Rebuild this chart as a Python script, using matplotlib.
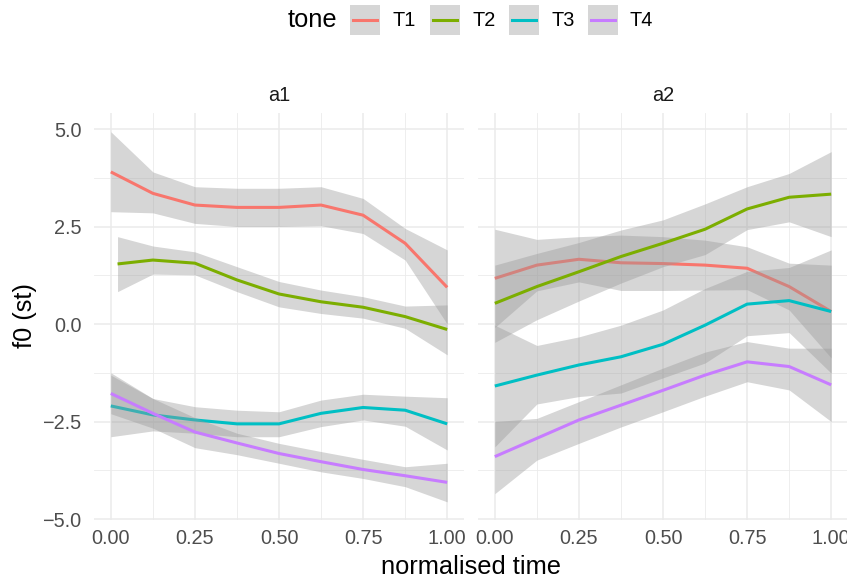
import matplotlib.pyplot as plt
from matplotlib.lines import Line2D
from matplotlib.patches import Rectangle

plt.rcParams['font.family'] = ['Liberation Sans', 'DejaVu Sans']

# normalised time points
time = [0, 0.125, 0.25, 0.375, 0.5, 0.625, 0.75, 0.875, 1]
time_a1_t2 = [0.02, 0.125, 0.25, 0.375, 0.5, 0.625, 0.75, 0.875, 1]

tones = ['T1', 'T2', 'T3', 'T4']
colors = ['#F8766D', '#7CAE00', '#00BFC4', '#C77CFF']

# panel a1: smoothed mean, lower and upper bounds
a1_t1 = [3.90, 3.35, 3.05, 2.99, 2.99, 3.05, 2.79, 2.07, 0.94]
a1_t1_lo = [2.88, 2.85, 2.58, 2.50, 2.50, 2.52, 2.32, 1.64, 0.00]
a1_t1_hi = [4.93, 3.90, 3.52, 3.48, 3.48, 3.52, 3.22, 2.45, 1.90]

a1_t2 = [1.54, 1.64, 1.56, 1.13, 0.77, 0.57, 0.43, 0.19, -0.14]
a1_t2_lo = [0.83, 1.28, 1.26, 0.83, 0.44, 0.27, 0.15, -0.11, -0.79]
a1_t2_hi = [2.24, 2.00, 1.85, 1.47, 1.09, 0.87, 0.70, 0.46, 0.49]

a1_t3 = [-2.10, -2.33, -2.46, -2.56, -2.56, -2.29, -2.14, -2.21, -2.56]
a1_t3_lo = [-2.89, -2.74, -2.80, -2.89, -2.89, -2.63, -2.46, -2.62, -3.23]
a1_t3_hi = [-1.31, -1.91, -2.12, -2.21, -2.25, -1.95, -1.80, -1.85, -1.89]

a1_t4 = [-1.78, -2.29, -2.77, -3.05, -3.32, -3.53, -3.73, -3.89, -4.06]
a1_t4_lo = [-2.30, -2.67, -3.17, -3.35, -3.57, -3.79, -3.96, -4.17, -4.56]
a1_t4_hi = [-1.25, -1.91, -2.40, -2.80, -3.06, -3.27, -3.47, -3.66, -3.57]

# panel a2
a2_t1 = [1.17, 1.51, 1.66, 1.57, 1.55, 1.51, 1.43, 0.96, 0.32]
a2_t1_lo = [-0.09, 0.85, 1.08, 0.86, 0.86, 0.87, 0.88, 0.36, -0.87]
a2_t1_hi = [2.43, 2.17, 2.24, 2.28, 2.24, 2.15, 1.98, 1.56, 1.51]

a2_t2 = [0.53, 0.96, 1.34, 1.73, 2.07, 2.43, 2.95, 3.25, 3.33]
a2_t2_lo = [-0.47, 0.11, 0.59, 1.05, 1.47, 1.78, 2.42, 2.62, 2.24]
a2_t2_hi = [1.51, 1.81, 2.09, 2.41, 2.67, 3.08, 3.52, 3.86, 4.42]

a2_t3 = [-1.59, -1.31, -1.05, -0.84, -0.52, -0.03, 0.51, 0.60, 0.32]
a2_t3_lo = [-3.15, -2.05, -1.86, -1.77, -1.38, -1.00, -0.30, -0.22, -1.26]
a2_t3_hi = [-0.03, -0.55, -0.33, -0.03, 0.36, 0.91, 1.35, 1.45, 1.90]

a2_t4 = [-3.40, -2.93, -2.46, -2.08, -1.70, -1.31, -0.97, -1.09, -1.56]
a2_t4_lo = [-4.35, -3.49, -3.06, -2.64, -2.25, -1.85, -1.48, -1.69, -2.50]
a2_t4_hi = [-2.50, -2.42, -1.99, -1.56, -1.13, -0.72, -0.45, -0.62, -0.62]

panels = {
    'a1': [(time, a1_t1, a1_t1_lo, a1_t1_hi),
           (time_a1_t2, a1_t2, a1_t2_lo, a1_t2_hi),
           (time, a1_t3, a1_t3_lo, a1_t3_hi),
           (time, a1_t4, a1_t4_lo, a1_t4_hi)],
    'a2': [(time, a2_t1, a2_t1_lo, a2_t1_hi),
           (time, a2_t2, a2_t2_lo, a2_t2_hi),
           (time, a2_t3, a2_t3_lo, a2_t3_hi),
           (time, a2_t4, a2_t4_lo, a2_t4_hi)],
}

W, H = 847, 583
fig = plt.figure(figsize=(W / 100, H / 100), dpi=100)

grid_col = '#EBEBEB'
text_col = '#4D4D4D'
band_col = '#999999'

panel_left = [94, 478]
panel_w = 370
panel_top, panel_bot = 113.4, 520.2

for i, (name, series) in enumerate(panels.items()):
    ax = fig.add_axes([panel_left[i] / W, 1 - panel_bot / H,
                       panel_w / W, (panel_bot - panel_top) / H])
    for j, (t, m, lo, hi) in enumerate(series):
        ax.fill_between(t, lo, hi, color=band_col, alpha=0.4, lw=0, zorder=2 + 2 * j)
        ax.plot(t, m, color=colors[j], lw=2.2, zorder=3 + 2 * j,
                solid_capstyle='butt')
    ax.set_xlim(-0.05, 1.05)
    ax.set_ylim(-5.03, 5.40)
    ax.set_xticks([0, 0.25, 0.5, 0.75, 1])
    ax.set_xticklabels(['0.00', '0.25', '0.50', '0.75', '1.00'])
    ax.set_xticks([0.125, 0.375, 0.625, 0.875], minor=True)
    ax.set_yticks([-5, -2.5, 0, 2.5, 5])
    ax.set_yticklabels(['\u22125.0', '\u22122.5', '0.0', '2.5', '5.0'])
    ax.set_yticks([-3.75, -1.25, 1.25, 3.75], minor=True)
    ax.grid(which='major', color=grid_col, lw=1.1, zorder=0)
    ax.grid(which='minor', color=grid_col, lw=0.6, zorder=0)
    ax.set_axisbelow(True)
    for s in ax.spines.values():
        s.set_visible(False)
    ax.tick_params(which='both', length=0, labelsize=14.3, colors=text_col)
    ax.tick_params(axis='x', pad=6)
    ax.tick_params(axis='y', pad=9)
    if i == 1:
        ax.tick_params(axis='y', labelleft=False)
    ax.text(0.5, 1.043, name, transform=ax.transAxes, ha='center', va='center',
            fontsize=14.3, color='#1A1A1A')

fig.text(471 / W, 1 - 567 / H, 'normalised time', ha='center', va='center',
         fontsize=18.3, color='black')
fig.text(25 / W, 1 - 316 / H, 'f0 (st)', ha='center', va='center',
         rotation=90, fontsize=18.3, color='black')

# legend on top
fig.text(288 / W, 1 - 20 / H, 'tone', ha='left', va='center', fontsize=18.3)
key_x = [350, 430, 509, 588]
for k, x0 in enumerate(key_x):
    fig.add_artist(Rectangle((x0 / W, 1 - 35 / H), 30 / W, 30 / H,
                             transform=fig.transFigure, color='#D6D6D6', lw=0))
    fig.add_artist(Line2D([(x0 + 3) / W, (x0 + 27) / W], [1 - 20 / H, 1 - 20 / H],
                          transform=fig.transFigure, color=colors[k], lw=2.2))
    fig.text((x0 + 42) / W, 1 - 20 / H, tones[k], ha='left', va='center',
             fontsize=14.3)

fig.savefig('out.png', dpi=100)
